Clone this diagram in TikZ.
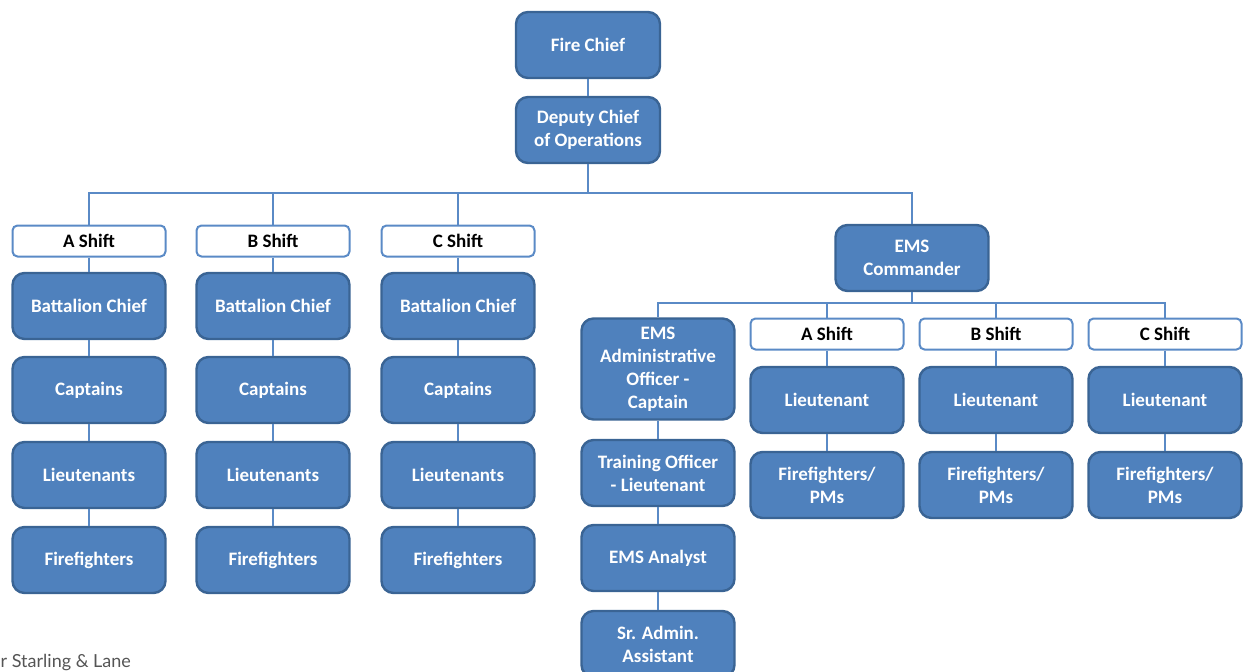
\documentclass[tikz,border=0pt]{standalone}
\usepackage{fontspec}
\setmainfont{Carlito}
\newfontfamily\footfont{Lato}
\definecolor{boxblue}{HTML}{4F81BD}
\definecolor{boxedge}{HTML}{3A6494}
\definecolor{lineblue}{HTML}{5A8AC6}
\definecolor{footgray}{HTML}{555555}
\tikzset{
  bluebox/.style={rounded corners=12pt, fill=boxblue, draw=boxedge, line width=2.4pt,
    text=white, font=\fontsize{19}{23}\selectfont\bfseries, align=center,
    minimum width=153pt, minimum height=66pt, inner sep=2pt},
  shiftbox/.style={rounded corners=5pt, fill=white, draw=lineblue, line width=2pt,
    text=black, font=\fontsize{19}{20}\selectfont\bfseries, align=center,
    minimum width=153pt, minimum height=31pt, inner sep=1pt},
  conn/.style={draw=lineblue, line width=2pt}
}
\begin{document}
\begin{tikzpicture}[x=1pt,y=-1pt]
\useasboundingbox (0,0) rectangle (1243,672);
\clip (0,0) rectangle (1243,672);
% top
\node[bluebox, minimum width=144pt] (fire) at (588,45) {Fire Chief};
\node[bluebox, minimum width=144pt] (dep) at (588,130) {Deputy Chief\\of Operations};
\coordinate (bus) at (588,193);
% shifts
\node[shiftbox] (as) at (89,241) {A Shift};
\node[shiftbox] (bs) at (273,241) {B Shift};
\node[shiftbox] (cs) at (458,241) {C Shift};
\node[bluebox] (abc) at (89,306) {Battalion Chief};
\node[bluebox] (bbc) at (273,306) {Battalion Chief};
\node[bluebox] (cbc) at (458,306) {Battalion Chief};
\node[bluebox] (acap) at (89,390) {Captains};
\node[bluebox] (bcap) at (273,390) {Captains};
\node[bluebox] (ccap) at (458,390) {Captains};
\node[bluebox] (alt) at (89,475) {Lieutenants};
\node[bluebox] (blt) at (273,475) {Lieutenants};
\node[bluebox] (clt) at (458,475) {Lieutenants};
\node[bluebox] (aff) at (89,560) {Firefighters};
\node[bluebox] (bff) at (273,560) {Firefighters};
\node[bluebox] (cff) at (458,560) {Firefighters};
% EMS
\node[bluebox] (emsc) at (912,258) {EMS\\Commander};
\coordinate (emsbus) at (912,303);
\node[bluebox, minimum height=101pt] (adm) at (658,369) {EMS\\Administrative\\Officer -\\Captain};
\node[bluebox] (trn) at (658,473) {Training Officer\\- Lieutenant};
\node[bluebox] (ana) at (658,558) {EMS Analyst};
\node[bluebox] (sra) at (658,644) {Sr. Admin.\\Assistant};
\node[shiftbox] (eas) at (827,334) {A Shift};
\node[shiftbox] (ebs) at (996,334) {B Shift};
\node[shiftbox] (ecs) at (1165,334) {C Shift};
\node[bluebox] (eal) at (827,400) {Lieutenant};
\node[bluebox] (ebl) at (996,400) {Lieutenant};
\node[bluebox] (ecl) at (1165,400) {Lieutenant};
\node[bluebox] (eaf) at (827,485) {Firefighters/\\PMs};
\node[bluebox] (ebf) at (996,485) {Firefighters/\\PMs};
\node[bluebox] (ecf) at (1165,485) {Firefighters/\\PMs};
% connectors
\draw[conn] (fire.south) -- (dep.north);
\draw[conn] (dep.south) -- (bus);
\draw[conn] (as.north) |- (bus) -| (emsc.north);
\draw[conn] (bs.north) -- (bs.north |- bus);
\draw[conn] (cs.north) -- (cs.north |- bus);
\foreach \c in {a,b,c}{
  \draw[conn] (\c s.south) -- (\c bc.north);
  \draw[conn] (\c bc.south) -- (\c cap.north);
  \draw[conn] (\c cap.south) -- (\c lt.north);
  \draw[conn] (\c lt.south) -- (\c ff.north);
}
\draw[conn] (emsc.south) -- (emsbus);
\draw[conn] (adm.north) |- (emsbus) -| (ecs.north);
\draw[conn] (eas.north) -- (eas.north |- emsbus);
\draw[conn] (ebs.north) -- (ebs.north |- emsbus);
\draw[conn] (adm.south) -- (trn.north);
\draw[conn] (trn.south) -- (ana.north);
\draw[conn] (ana.south) -- (sra.north);
\foreach \c in {a,b,c}{
  \draw[conn] (e\c s.south) -- (e\c l.north);
  \draw[conn] (e\c l.south) -- (e\c f.north);
}
% footer
\node[anchor=base west, text=footgray, font=\footfont\fontsize{18}{20}\selectfont, inner sep=0pt] (foot) at (0.5,667) {r Starling \& Lane};
\end{tikzpicture}
\end{document}
